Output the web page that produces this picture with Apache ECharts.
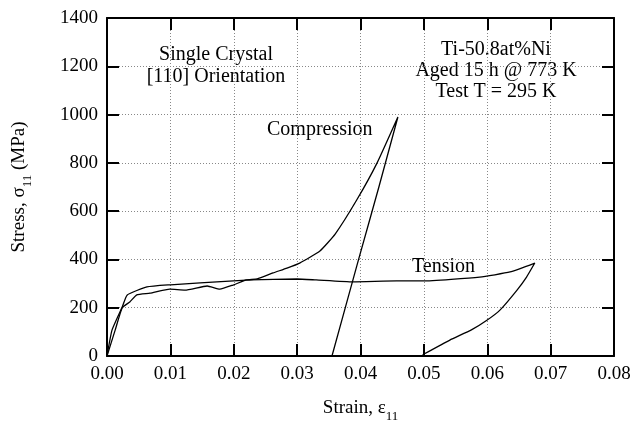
<!DOCTYPE html>
<html><head><meta charset="utf-8">
<script src="https://cdn.jsdelivr.net/npm/echarts@6/dist/echarts.min.js"></script>
<style>html,body{margin:0;padding:0;background:#fff}#c{width:630px;height:423px}</style>
</head><body><div id="c"></div>
<script>
var compressionStrain = [0, 0.0013, 0.0024, 0.0036, 0.0047, 0.0068, 0.0099, 0.0123, 0.0158, 0.0178, 0.0199, 0.022, 0.0237, 0.0262, 0.0284, 0.0304, 0.0336, 0.036, 0.0394, 0.0426, 0.0459, 0.0429, 0.0397, 0.0355];
var compressionStress = [0, 108, 200, 224, 253, 260, 277, 273, 290, 277, 294, 315, 319, 344, 364, 385, 435, 505, 646, 799, 990, 700, 400, 0];
var tensionStrain = [0, 0.0008, 0.0024, 0.0032, 0.0063, 0.0100, 0.0147, 0.0226, 0.030, 0.033, 0.0388, 0.0457, 0.0498, 0.0588, 0.0636, 0.0675, 0.0662, 0.0647, 0.062, 0.060, 0.0575, 0.0541, 0.0498];
var tensionStress = [0, 108, 203, 253, 286, 295, 303, 315, 319, 315, 307, 311, 311, 327, 348, 385, 327, 273, 190, 149, 108, 66, 5];
var xTicks = [0, 0.08, 0.01];   // min, max, interval
var yTicks = [0, 1400, 200];

function pairs(xs, ys){ return xs.map(function(x,i){ return [x, ys[i]]; }); }

var FONT = '"Liberation Serif", "Times New Roman", serif';
var chart = echarts.init(document.getElementById('c'), null, {renderer:'canvas'});
function tick(){ return {show:true, inside:true, length:12, lineStyle:{color:'#000', width:2}}; }
function line(){ return {show:true, onZero:false, lineStyle:{color:'#000', width:2}}; }
var nameRich = {
  a:{fontFamily:FONT, fontSize:19, color:'#000', verticalAlign:'bottom', lineHeight:22},
  s:{fontFamily:FONT, fontSize:13, color:'#000', verticalAlign:'bottom', lineHeight:22, padding:[0,0,-5,0]}
};
chart.setOption({
  animation:false,
  backgroundColor:'#fff',
  grid:{left:107, right:16, top:18, bottom:67, containLabel:false, outerBoundsMode:'none'},
  xAxis:[
    {type:'value', min:xTicks[0], max:xTicks[1], interval:xTicks[2], position:'bottom',
      axisLine:line(), axisTick:tick(),
      axisLabel:{color:'#000', fontFamily:FONT, fontSize:19, margin:9, formatter:function(v){return v.toFixed(2);}},
      splitLine:{show:true, lineStyle:{color:'#888', width:1, type:[1,2]}},
      name:'{a|Strain, ε}{s|11}', nameLocation:'middle', nameGap:40,
      nameTextStyle:{rich:nameRich}},
    {type:'value', min:xTicks[0], max:xTicks[1], interval:xTicks[2], position:'top',
      axisLine:line(), axisTick:tick(), axisLabel:{show:false}, splitLine:{show:false}}
  ],
  yAxis:[
    {type:'value', min:yTicks[0], max:yTicks[1], interval:yTicks[2], position:'left',
      axisLine:line(), axisTick:tick(),
      axisLabel:{color:'#000', fontFamily:FONT, fontSize:19, margin:9, formatter:function(v){return String(v);}},
      splitLine:{show:true, lineStyle:{color:'#888', width:1, type:[1,2]}},
      name:'{a|Stress, σ}{s|11}{a| (MPa)}', nameLocation:'middle', nameGap:78, nameRotate:90,
      nameTextStyle:{rich:nameRich}},
    {type:'value', min:yTicks[0], max:yTicks[1], interval:yTicks[2], position:'right',
      axisLine:line(), axisTick:tick(), axisLabel:{show:false}, splitLine:{show:false}}
  ],
  series:[
    {name:'Compression', type:'line', data:pairs(compressionStrain, compressionStress), showSymbol:false, smooth:0.15,
     lineStyle:{color:'#000', width:1.3}},
    {name:'Tension', type:'line', data:pairs(tensionStrain, tensionStress), showSymbol:false, smooth:0.15,
     lineStyle:{color:'#000', width:1.3}}
  ],
  graphic:[
    {type:'text', x:216, y:44, style:{text:'Single Crystal\n[110] Orientation', fontFamily:'Liberation Serif', fontSize:20, fill:'#000', align:'center', lineHeight:22}},
    {type:'text', x:496, y:39, style:{text:'Ti-50.8at%Ni\nAged 15 h @ 773 K\nTest T = 295 K', fontFamily:'Liberation Serif', fontSize:20, fill:'#000', align:'center', lineHeight:21}},
    {type:'text', x:267, y:120, style:{text:'Compression', fontFamily:'Liberation Serif', fontSize:20, fill:'#000', align:'left'}},
    {type:'text', x:412, y:257, style:{text:'Tension', fontFamily:'Liberation Serif', fontSize:20, fill:'#000', align:'left'}}
  ]
});
</script>
</body></html>
